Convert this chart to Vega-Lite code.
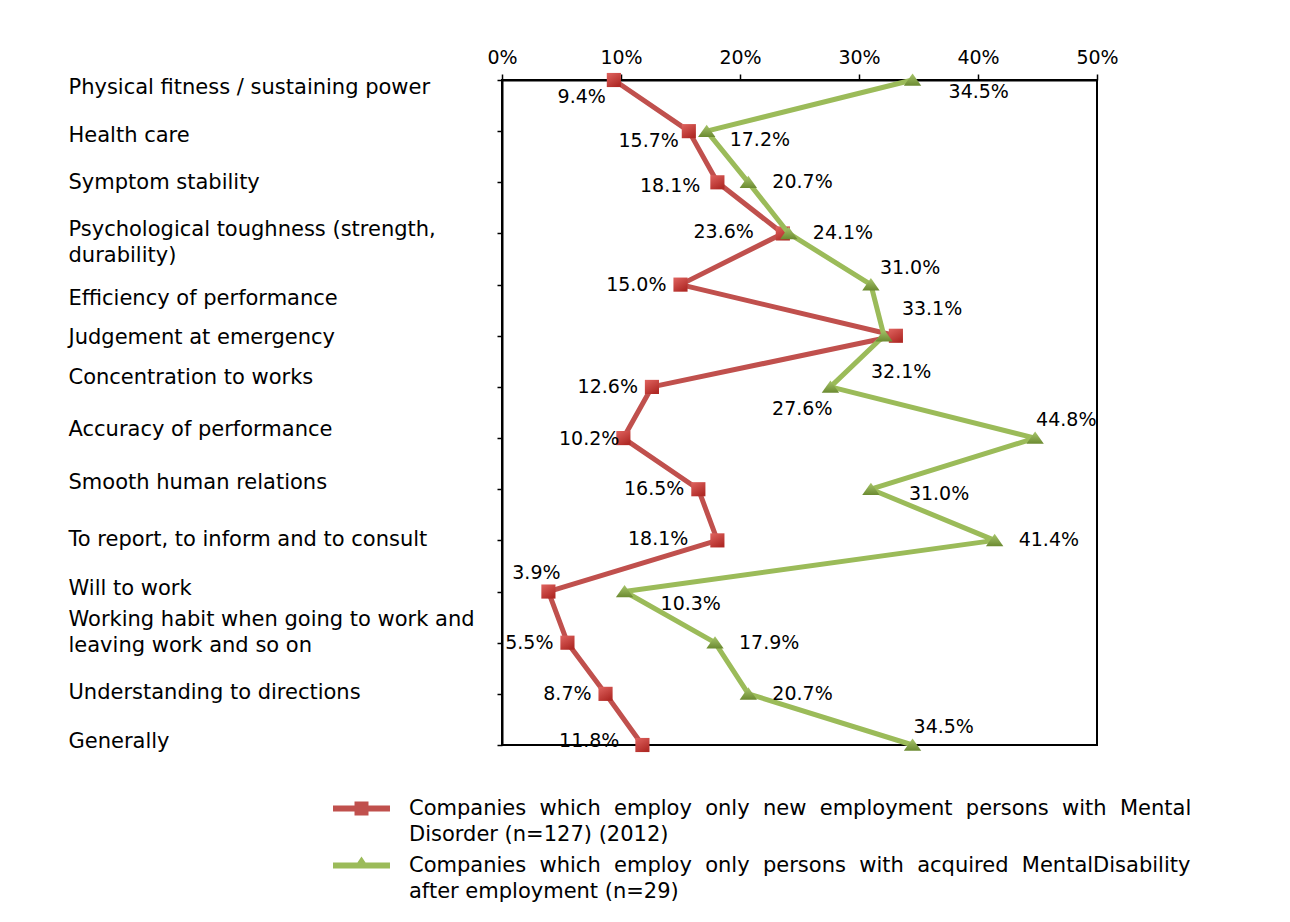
{
  "$schema": "https://vega.github.io/schema/vega-lite/v6.json",
  "autosize": "none",
  "padding": {"left": 502, "top": 80, "right": 193, "bottom": 177},
  "width": 595,
  "height": 665,
  "background": "white",
  "config": {
    "font": "DejaVu Sans",
    "view": {"stroke": "black", "strokeWidth": 2},
    "axis": {"grid": false, "title": null, "domainColor": "black", "domainWidth": 2, "tickColor": "black", "tickWidth": 1.5, "labelColor": "black", "labelFont": "DejaVu Sans"}
  },
  "data": {
    "values": [
      {"item": "Physical fitness / sustaining power", "series": "Companies which employ only new employment persons with Mental Disorder (n=127) (2012)", "value": 0.094},
      {"item": "Health care", "series": "Companies which employ only new employment persons with Mental Disorder (n=127) (2012)", "value": 0.157},
      {"item": "Symptom stability", "series": "Companies which employ only new employment persons with Mental Disorder (n=127) (2012)", "value": 0.181},
      {"item": "Psychological toughness (strength, durability)", "series": "Companies which employ only new employment persons with Mental Disorder (n=127) (2012)", "value": 0.236},
      {"item": "Efficiency of performance", "series": "Companies which employ only new employment persons with Mental Disorder (n=127) (2012)", "value": 0.150},
      {"item": "Judgement at emergency", "series": "Companies which employ only new employment persons with Mental Disorder (n=127) (2012)", "value": 0.331},
      {"item": "Concentration to works", "series": "Companies which employ only new employment persons with Mental Disorder (n=127) (2012)", "value": 0.126},
      {"item": "Accuracy of performance", "series": "Companies which employ only new employment persons with Mental Disorder (n=127) (2012)", "value": 0.102},
      {"item": "Smooth human relations", "series": "Companies which employ only new employment persons with Mental Disorder (n=127) (2012)", "value": 0.165},
      {"item": "To report, to inform and to consult", "series": "Companies which employ only new employment persons with Mental Disorder (n=127) (2012)", "value": 0.181},
      {"item": "Will to work", "series": "Companies which employ only new employment persons with Mental Disorder (n=127) (2012)", "value": 0.039},
      {"item": "Working habit when going to work and leaving work and so on", "series": "Companies which employ only new employment persons with Mental Disorder (n=127) (2012)", "value": 0.055},
      {"item": "Understanding to directions", "series": "Companies which employ only new employment persons with Mental Disorder (n=127) (2012)", "value": 0.087},
      {"item": "Generally", "series": "Companies which employ only new employment persons with Mental Disorder (n=127) (2012)", "value": 0.118},
      {"item": "Physical fitness / sustaining power", "series": "Companies which employ only persons with acquired MentalDisability after employment (n=29)", "value": 0.345},
      {"item": "Health care", "series": "Companies which employ only persons with acquired MentalDisability after employment (n=29)", "value": 0.172},
      {"item": "Symptom stability", "series": "Companies which employ only persons with acquired MentalDisability after employment (n=29)", "value": 0.207},
      {"item": "Psychological toughness (strength, durability)", "series": "Companies which employ only persons with acquired MentalDisability after employment (n=29)", "value": 0.241},
      {"item": "Efficiency of performance", "series": "Companies which employ only persons with acquired MentalDisability after employment (n=29)", "value": 0.310},
      {"item": "Judgement at emergency", "series": "Companies which employ only persons with acquired MentalDisability after employment (n=29)", "value": 0.321},
      {"item": "Concentration to works", "series": "Companies which employ only persons with acquired MentalDisability after employment (n=29)", "value": 0.276},
      {"item": "Accuracy of performance", "series": "Companies which employ only persons with acquired MentalDisability after employment (n=29)", "value": 0.448},
      {"item": "Smooth human relations", "series": "Companies which employ only persons with acquired MentalDisability after employment (n=29)", "value": 0.310},
      {"item": "To report, to inform and to consult", "series": "Companies which employ only persons with acquired MentalDisability after employment (n=29)", "value": 0.414},
      {"item": "Will to work", "series": "Companies which employ only persons with acquired MentalDisability after employment (n=29)", "value": 0.103},
      {"item": "Working habit when going to work and leaving work and so on", "series": "Companies which employ only persons with acquired MentalDisability after employment (n=29)", "value": 0.179},
      {"item": "Understanding to directions", "series": "Companies which employ only persons with acquired MentalDisability after employment (n=29)", "value": 0.207},
      {"item": "Generally", "series": "Companies which employ only persons with acquired MentalDisability after employment (n=29)", "value": 0.345}
    ]
  },
  "encoding": {
    "x": {
      "field": "value", "type": "quantitative",
      "scale": {"domain": [0, 0.5], "nice": false, "zero": true},
      "axis": {"orient": "top", "values": [0, 0.1, 0.2, 0.3, 0.4, 0.5], "format": ".0%", "tickSize": 6, "labelPadding": 7, "labelFontSize": 19, "labelFlush": false}
    },
    "y": {
      "field": "item", "type": "nominal",
      "scale": {"type": "point", "padding": 0, "domain": ["Physical fitness / sustaining power", "Health care", "Symptom stability", "Psychological toughness (strength, durability)", "Efficiency of performance", "Judgement at emergency", "Concentration to works", "Accuracy of performance", "Smooth human relations", "To report, to inform and to consult", "Will to work", "Working habit when going to work and leaving work and so on", "Understanding to directions", "Generally"]},
      "axis": {"orient": "left", "tickSize": 5, "labelAlign": "left", "labelBaseline": "middle", "labelPadding": 429, "labelLimit": 600, "labelFontSize": 21, "labelLineHeight": 26,
        "labelExpr": "datum.label == 'Psychological toughness (strength, durability)' ? ['Psychological toughness (strength,', 'durability)'] : datum.label == 'Working habit when going to work and leaving work and so on' ? ['Working habit when going to work and', 'leaving work and so on'] : datum.label",
        "labelOffset": {"expr": "datum.value == 'Physical fitness / sustaining power' ? 7 : datum.value == 'Health care' ? 4 : datum.value == 'Psychological toughness (strength, durability)' ? -4 : datum.value == 'Efficiency of performance' ? 14 : datum.value == 'Judgement at emergency' ? 2 : datum.value == 'Concentration to works' ? -9 : datum.value == 'Accuracy of performance' ? -9 : datum.value == 'Smooth human relations' ? -7 : datum.value == 'To report, to inform and to consult' ? -1 : datum.value == 'Will to work' ? -3 : datum.value == 'Working habit when going to work and leaving work and so on' ? -23 : datum.value == 'Understanding to directions' ? -1 : datum.value == 'Generally' ? -4 : 0"}
      }
    }
  },
  "layer": [
    {
      "transform": [{"filter": "indexof(datum.series, 'new employment') >= 0"}],
      "mark": {"type": "line", "strokeWidth": 5, "strokeJoin": "round"},
      "encoding": {
        "order": {"value": null},
        "color": {
          "field": "series", "type": "nominal",
          "scale": {"domain": ["Companies which employ only new employment persons with Mental Disorder (n=127) (2012)", "Companies which employ only persons with acquired MentalDisability after employment (n=29)"], "range": ["#C0504D", "#9BBB59"]},
          "legend": {
            "title": null, "orient": "none", "legendX": -161.5, "legendY": 707.5, "direction": "vertical", "padding": 0,
            "labelFontSize": 21, "labelFont": "DejaVu Sans", "labelColor": "black", "labelLimit": 1000, "labelOffset": 26.5,
            "symbolSize": 1722, "rowPadding": 0,
            "labelExpr": "indexof(datum.label, 'new employment') >= 0 ? ['Companies\u00a0 which\u00a0 employ\u00a0 only\u00a0 new\u00a0 employment\u00a0 persons\u00a0 with\u00a0 Mental', 'Disorder (n=127) (2012)'] : ['Companies\u00a0 which\u00a0 employ\u00a0 only\u00a0 persons\u00a0 with\u00a0 acquired\u00a0 MentalDisability', 'after employment (n=29)']",
            "encode": {
              "labels": {"update": {"lineHeight": {"value": 26}}},
              "symbols": {"update": {
                "shape": {"signal": "indexof(datum.value, 'new employment') >= 0 ? 'M-1.373,-0.145H1.373V0.145H-1.373Z M-0.337,-0.337H0.337V0.337H-0.337Z' : 'M-1.373,-0.145H1.373V0.145H-1.373Z M0,-0.43L0.39,0.145H-0.39Z'"},
                "fill": {"signal": "indexof(datum.value, 'new employment') >= 0 ? '#C0504D' : '#9BBB59'"},
                "stroke": {"value": "transparent"},
                "strokeWidth": {"value": 0},
                "opacity": {"value": 1}
              }}
            }
          }
        }
      }
    },
    {
      "transform": [{"filter": "indexof(datum.series, 'new employment') >= 0"}],
      "mark": {"type": "point", "shape": "square", "size": 200, "filled": true, "opacity": 1,
        "fill": {"gradient": "linear", "x1": 0, "y1": 0, "x2": 0.6, "y2": 1, "stops": [{"offset": 0, "color": "#E06460"}, {"offset": 1, "color": "#B02A26"}]}}
    },
    {
      "transform": [{"filter": "indexof(datum.series, 'acquired') >= 0"}],
      "mark": {"type": "line", "strokeWidth": 5, "strokeJoin": "round"},
      "encoding": {
        "order": {"value": null},
        "color": {"field": "series", "type": "nominal"}
      }
    },
    {
      "transform": [{"filter": "indexof(datum.series, 'acquired') >= 0"}],
      "mark": {"type": "point", "shape": "M0,-0.9L1.2,0.8L-1.2,0.8Z", "size": 210, "filled": true, "opacity": 1,
        "fill": {"gradient": "linear", "x1": 0, "y1": 0, "x2": 0, "y2": 1, "stops": [{"offset": 0, "color": "#A8C66C"}, {"offset": 1, "color": "#6B8A31"}]}}
    },
    {
      "transform": [{"filter": "indexof(datum.series, 'new employment') >= 0"}, {"filter": {"field": "item", "oneOf": ["Efficiency of performance", "Concentration to works", "Smooth human relations", "Working habit when going to work and leaving work and so on", "Understanding to directions"]}}],
      "mark": {"type": "text", "align": "right", "baseline": "middle", "dx": -14, "dy": 0, "fontSize": 19, "color": "black"},
      "encoding": {"text": {"field": "value", "format": ".1%"}}
    },
    {
      "transform": [{"filter": "indexof(datum.series, 'new employment') >= 0"}, {"filter": {"field": "item", "oneOf": ["Physical fitness / sustaining power"]}}],
      "mark": {"type": "text", "align": "right", "baseline": "middle", "dx": -8, "dy": 17, "fontSize": 19, "color": "black"},
      "encoding": {"text": {"field": "value", "format": ".1%"}}
    },
    {
      "transform": [{"filter": "indexof(datum.series, 'new employment') >= 0"}, {"filter": {"field": "item", "oneOf": ["Health care"]}}],
      "mark": {"type": "text", "align": "right", "baseline": "middle", "dx": -10, "dy": 10, "fontSize": 19, "color": "black"},
      "encoding": {"text": {"field": "value", "format": ".1%"}}
    },
    {
      "transform": [{"filter": "indexof(datum.series, 'new employment') >= 0"}, {"filter": {"field": "item", "oneOf": ["Symptom stability"]}}],
      "mark": {"type": "text", "align": "right", "baseline": "middle", "dx": -17, "dy": 4, "fontSize": 19, "color": "black"},
      "encoding": {"text": {"field": "value", "format": ".1%"}}
    },
    {
      "transform": [{"filter": "indexof(datum.series, 'new employment') >= 0"}, {"filter": {"field": "item", "oneOf": ["Psychological toughness (strength, durability)", "To report, to inform and to consult"]}}],
      "mark": {"type": "text", "align": "right", "baseline": "middle", "dx": -29, "dy": -1, "fontSize": 19, "color": "black"},
      "encoding": {"text": {"field": "value", "format": ".1%"}}
    },
    {
      "transform": [{"filter": "indexof(datum.series, 'new employment') >= 0"}, {"filter": {"field": "item", "oneOf": ["Generally"]}}],
      "mark": {"type": "text", "align": "right", "baseline": "middle", "dx": -23, "dy": -4, "fontSize": 19, "color": "black"},
      "encoding": {"text": {"field": "value", "format": ".1%"}}
    },
    {
      "transform": [{"filter": "indexof(datum.series, 'new employment') >= 0"}, {"filter": {"field": "item", "oneOf": ["Accuracy of performance"]}}],
      "mark": {"type": "text", "align": "right", "baseline": "middle", "dx": -4, "dy": 1, "fontSize": 19, "color": "black"},
      "encoding": {"text": {"field": "value", "format": ".1%"}}
    },
    {
      "transform": [{"filter": "indexof(datum.series, 'new employment') >= 0"}, {"filter": {"field": "item", "oneOf": ["Judgement at emergency"]}}],
      "mark": {"type": "text", "align": "left", "baseline": "middle", "dx": 6, "dy": -27, "fontSize": 19, "color": "black"},
      "encoding": {"text": {"field": "value", "format": ".1%"}}
    },
    {
      "transform": [{"filter": "indexof(datum.series, 'new employment') >= 0"}, {"filter": {"field": "item", "oneOf": ["Will to work"]}}],
      "mark": {"type": "text", "align": "center", "baseline": "middle", "dx": -12, "dy": -19, "fontSize": 19, "color": "black"},
      "encoding": {"text": {"field": "value", "format": ".1%"}}
    },
    {
      "transform": [{"filter": "indexof(datum.series, 'acquired') >= 0"}, {"filter": {"field": "item", "oneOf": ["Symptom stability", "Psychological toughness (strength, durability)", "To report, to inform and to consult", "Working habit when going to work and leaving work and so on", "Understanding to directions"]}}],
      "mark": {"type": "text", "align": "left", "baseline": "middle", "dx": 24, "dy": 0, "fontSize": 19, "color": "black"},
      "encoding": {"text": {"field": "value", "format": ".1%"}}
    },
    {
      "transform": [{"filter": "indexof(datum.series, 'acquired') >= 0"}, {"filter": {"field": "item", "oneOf": ["Physical fitness / sustaining power", "Will to work"]}}],
      "mark": {"type": "text", "align": "left", "baseline": "middle", "dx": 36, "dy": 12, "fontSize": 19, "color": "black"},
      "encoding": {"text": {"field": "value", "format": ".1%"}}
    },
    {
      "transform": [{"filter": "indexof(datum.series, 'acquired') >= 0"}, {"filter": {"field": "item", "oneOf": ["Smooth human relations"]}}],
      "mark": {"type": "text", "align": "left", "baseline": "middle", "dx": 38, "dy": 5, "fontSize": 19, "color": "black"},
      "encoding": {"text": {"field": "value", "format": ".1%"}}
    },
    {
      "transform": [{"filter": "indexof(datum.series, 'acquired') >= 0"}, {"filter": {"field": "item", "oneOf": ["Health care"]}}],
      "mark": {"type": "text", "align": "left", "baseline": "middle", "dx": 23, "dy": 9, "fontSize": 19, "color": "black"},
      "encoding": {"text": {"field": "value", "format": ".1%"}}
    },
    {
      "transform": [{"filter": "indexof(datum.series, 'acquired') >= 0"}, {"filter": {"field": "item", "oneOf": ["Efficiency of performance"]}}],
      "mark": {"type": "text", "align": "left", "baseline": "middle", "dx": 9, "dy": -17, "fontSize": 19, "color": "black"},
      "encoding": {"text": {"field": "value", "format": ".1%"}}
    },
    {
      "transform": [{"filter": "indexof(datum.series, 'acquired') >= 0"}, {"filter": {"field": "item", "oneOf": ["Judgement at emergency"]}}],
      "mark": {"type": "text", "align": "left", "baseline": "middle", "dx": -13, "dy": 36, "fontSize": 19, "color": "black"},
      "encoding": {"text": {"field": "value", "format": ".1%"}}
    },
    {
      "transform": [{"filter": "indexof(datum.series, 'acquired') >= 0"}, {"filter": {"field": "item", "oneOf": ["Concentration to works"]}}],
      "mark": {"type": "text", "align": "right", "baseline": "middle", "dx": 2, "dy": 22, "fontSize": 19, "color": "black"},
      "encoding": {"text": {"field": "value", "format": ".1%"}}
    },
    {
      "transform": [{"filter": "indexof(datum.series, 'acquired') >= 0"}, {"filter": {"field": "item", "oneOf": ["Accuracy of performance", "Generally"]}}],
      "mark": {"type": "text", "align": "left", "baseline": "middle", "dx": 1, "dy": -18, "fontSize": 19, "color": "black"},
      "encoding": {"text": {"field": "value", "format": ".1%"}}
    }
  ]
}
